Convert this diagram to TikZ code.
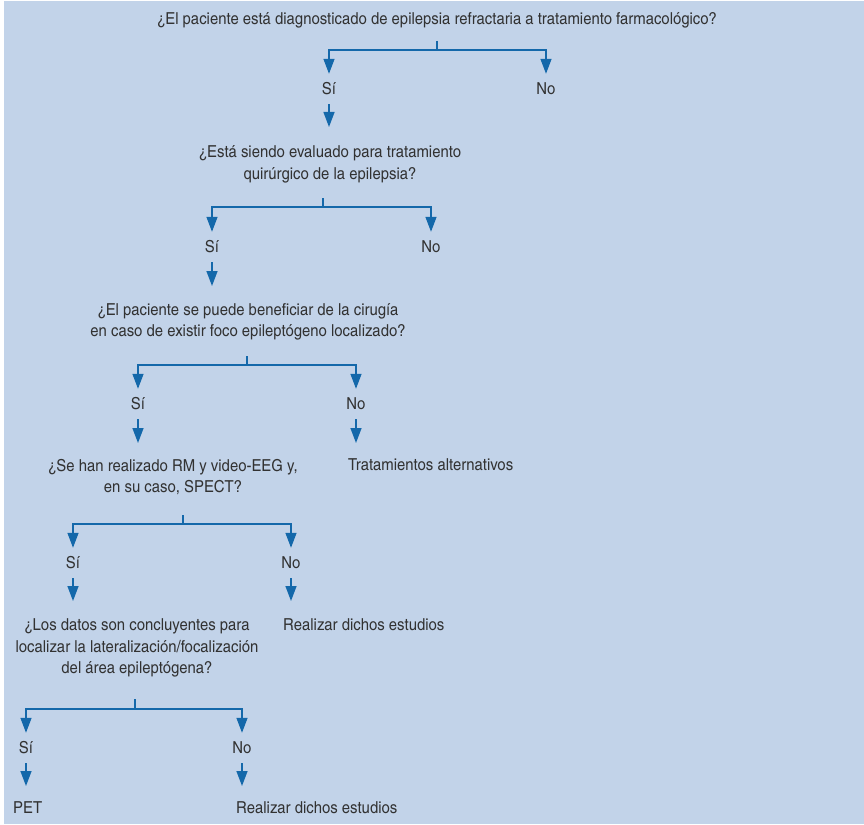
\documentclass[tikz,border=0pt]{standalone}
\usepackage{fontspec}
\setmainfont{texgyreheroscn}[Extension=.otf, UprightFont=*-regular, BoldFont=*-bold, FakeStretch=1.1]
\usetikzlibrary{arrows.meta}
\definecolor{bgc}{RGB}{194,211,233}
\definecolor{lnc}{RGB}{20,104,170}
\definecolor{txc}{RGB}{50,50,50}
\begin{document}
\begin{tikzpicture}[x=1pt,y=-1pt,
  txt/.style={font=\fontsize{16.5}{21.5}\selectfont, text=txc, inner sep=0pt, align=center},
  lbl/.style={txt, text height=11.8pt, text depth=0pt, minimum height=30pt},
  lft/.style={txt, anchor=west, text height=11.8pt, text depth=0pt},
  conn/.style={draw=lnc, line width=1.4pt},
  arr/.style={conn, -{Triangle[length=15pt,width=11pt]}},
]
\useasboundingbox (0,0) rectangle (864,824);
\fill[bgc] (4,1) rectangle (864,824);

% level 0
\node[txt, anchor=base] (q0) at (437,25) {¿El paciente está diagnosticado de epilepsia refractaria a tratamiento farmacológico?};
\coordinate (s0) at (437,41);
\coordinate (c0) at (437,50);
\node[lbl] (si0) at (329,89) {Sí};
\node[lbl] (no0) at (546,89) {No};
\coordinate (a1) at (329,127);
\draw[conn] (s0) -- (c0);
\draw[arr] (c0) -| (si0.north);
\draw[arr] (c0) -| (no0.north);
\draw[arr] (si0.south) -- (a1);

% level 1
\node[txt] (q1) at (330,164.5) {¿Está siendo evaluado para tratamiento\\quirúrgico de la epilepsia?};
\coordinate (s1) at (323,198);
\coordinate (c1) at (323,207);
\node[lbl] (si1) at (212,247) {Sí};
\node[lbl] (no1) at (431,247) {No};
\coordinate (a2) at (212,286);
\draw[conn] (s1) -- (c1);
\draw[arr] (c1) -| (si1.north);
\draw[arr] (c1) -| (no1.north);
\draw[arr] (si1.south) -- (a2);

% level 2
\node[txt] (q2) at (248,322) {¿El paciente se puede beneficiar de la cirugía\\en caso de existir foco epileptógeno localizado?};
\coordinate (s2) at (247,356);
\coordinate (c2) at (247,365);
\node[lbl] (si2) at (138,404) {Sí};
\node[lbl] (no2) at (356,404) {No};
\coordinate (a3) at (138,443);
\coordinate (a3n) at (356,443);
\draw[conn] (s2) -- (c2);
\draw[arr] (c2) -| (si2.north);
\draw[arr] (c2) -| (no2.north);
\draw[arr] (si2.south) -- (a3);
\draw[arr] (no2.south) -- (a3n);
\node[txt] (q3) at (173,477) {¿Se han realizado RM y video-EEG y,\\en su caso, SPECT?};
\node[lft] (alt) at (348,465) {Tratamientos alternativos};

% level 3
\coordinate (s3) at (183,515);
\coordinate (c3) at (183,524);
\node[lbl] (si3) at (73,563) {Sí};
\node[lbl] (no3) at (291,563) {No};
\coordinate (a4) at (73,601);
\coordinate (a4n) at (291,601);
\draw[conn] (s3) -- (c3);
\draw[arr] (c3) -| (si3.north);
\draw[arr] (c3) -| (no3.north);
\draw[arr] (si3.south) -- (a4);
\draw[arr] (no3.south) -- (a4n);
\node[txt] (q4) at (137,648.3) {¿Los datos son concluyentes para\\localizar la lateralización/focalización\\del área epileptógena?};
\node[lft] (rde1) at (283,625) {Realizar dichos estudios};

% level 4
\coordinate (s4) at (135,699);
\coordinate (c4) at (135,709);
\node[lbl] (si4) at (26,748) {Sí};
\node[lbl] (no4) at (242,748) {No};
\coordinate (a5) at (26,786);
\coordinate (a5n) at (242,786);
\draw[conn] (s4) -- (c4);
\draw[arr] (c4) -| (si4.north);
\draw[arr] (c4) -| (no4.north);
\draw[arr] (si4.south) -- (a5);
\draw[arr] (no4.south) -- (a5n);
\node[lft] (pet) at (13,808) {PET};
\node[lft] (rde2) at (236,808) {Realizar dichos estudios};
\end{tikzpicture}
\end{document}
